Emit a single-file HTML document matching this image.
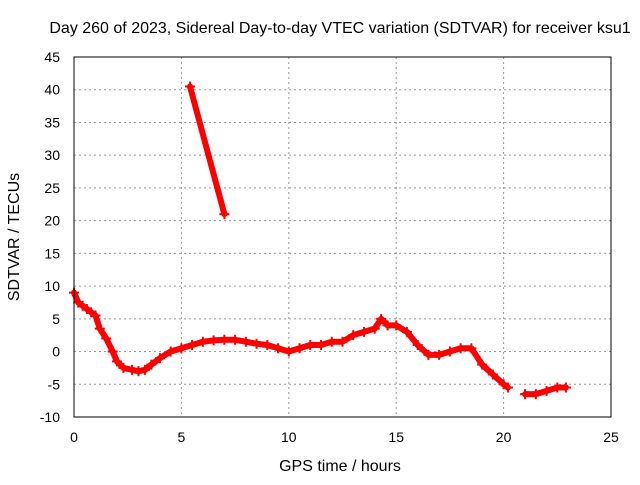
<!DOCTYPE html>
<html><head><meta charset="utf-8"><style>
body{margin:0;background:#fff}
svg{font-family:"Liberation Sans",sans-serif;font-size:14px}
.t{font-size:16px}
</style></head><body>
<svg id="c" width="640" height="480">
<text class="t" x="340" y="33" text-anchor="middle">Day 260 of 2023, Sidereal Day-to-day VTEC variation (SDTVAR) for receiver ksu1</text>
<text class="t" x="340" y="471" text-anchor="middle">GPS time / hours</text>
<text class="t" transform="translate(19,237) rotate(-90)" text-anchor="middle">SDTVAR / TECUs</text>
<g id="grid"></g><g id="ticks"></g><g id="marks"></g>
<rect x="74" y="57" width="537" height="360" fill="none" stroke="#000"/>
</svg>
<script>
const xTicks=[0,5,10,15,20,25];
const yTicks=[-10,-5,0,5,10,15,20,25,30,35,40,45];
const mainTimes=[0,0.2,0.4,0.6,0.8,1.0,1.2,1.5,1.8,2.0,2.3,2.7,3.0,3.3,3.6,4.0,4.5,5.0,5.5,6.0,6.5,7.0,7.5,8.0,8.5,9.0,9.5,10.0,10.5,11.0,11.5,12.0,12.5,13.0,13.5,14.0,14.3,14.6,15.0,15.5,16.0,16.5,17.0,17.5,18.0,18.5,19.0,19.5,20.0,20.2];
const mainValues=[9,7.5,7,6.5,6,5.5,3.5,2,0,-1.5,-2.5,-2.8,-3,-2.8,-2,-1,0,0.5,1,1.5,1.7,1.8,1.8,1.5,1.2,1,0.5,0,0.5,1,1,1.5,1.5,2.5,3,3.5,5,4,4,3,1,-0.5,-0.5,0,0.5,0.5,-2,-3.5,-5,-5.5];
const tailTimes=[21.0,21.5,22.0,22.5,22.9];
const tailValues=[-6.5,-6.5,-6,-5.5,-5.5];
const streakTimes=[5.4,7.0];
const streakValues=[40.5,21];
const NS="http://www.w3.org/2000/svg";
const X=t=>74+t*537/25, Y=v=>57+(45-v)*360/55;
const mk=(tag,a,p)=>{const e=document.createElementNS(NS,tag);for(const k in a)e.setAttribute(k,a[k]);p.appendChild(e);return e;};
const g=document.getElementById('grid'),tk=document.getElementById('ticks'),m=document.getElementById('marks');
xTicks.forEach(t=>{
 if(t>0&&t<25){const l=mk('line',{x1:X(t),x2:X(t),y1:57,y2:417,stroke:'#999','stroke-dasharray':'2,3'},g);
 }
 const s=mk('text',{x:X(t),y:442,'text-anchor':'middle'},tk);s.textContent=t;
 
});
yTicks.forEach(v=>{
 if(v>-10&&v<45){const l=mk('line',{x1:74,x2:611,y1:Y(v),y2:Y(v),stroke:'#999','stroke-dasharray':'2,3'},g);
 }
 const s=mk('text',{x:60,y:Y(v)+5,'text-anchor':'end'},tk);s.textContent=v;
 
});
function series(ts,vs,name){
 const pts=ts.map((t,i)=>X(t)+','+Y(vs[i])).join(' ');
 const p=mk('polyline',{points:pts,fill:'none',stroke:'#f00','stroke-width':6,'stroke-linejoin':'round','stroke-linecap':'round'},m);
 
 
 ts.forEach((t,i)=>{const x=X(t),y=Y(vs[i]);
  const q=mk('path',{d:`M${x-5},${y}h10M${x},${y-5}v10`,stroke:'#f00','stroke-width':2},m);
  
  });
}
series(mainTimes,mainValues,'sdtvar-main-series');
series(tailTimes,tailValues,'sdtvar-tail-series');
series(streakTimes,streakValues,'sdtvar-streak-series');
</script>
</body></html>
